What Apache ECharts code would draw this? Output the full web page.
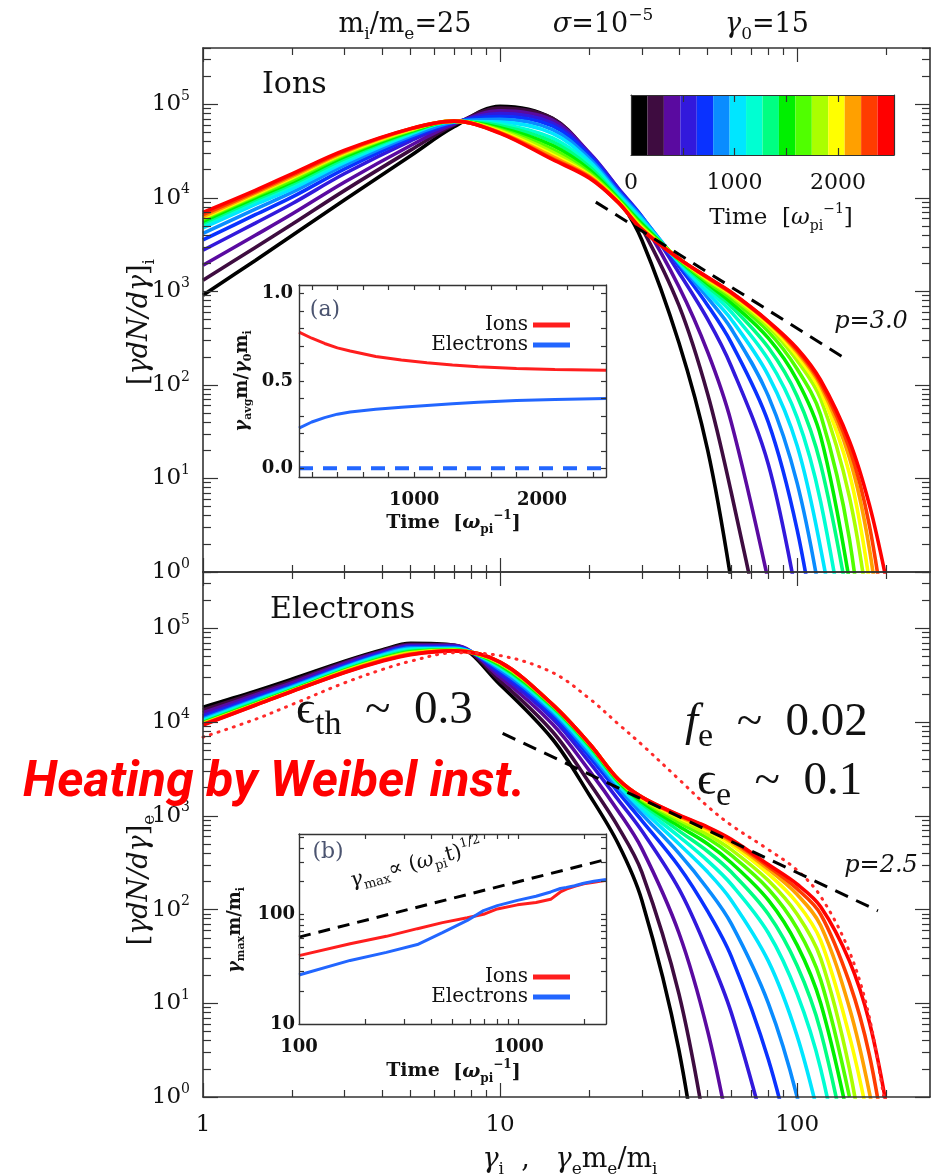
<!DOCTYPE html>
<html>
<head>
<meta charset="utf-8">
<title>Ion and electron spectra</title>
<script src="https://cdn.jsdelivr.net/npm/echarts@6.0.0/dist/echarts.min.js"></script>
<style>
  html, body { margin: 0; padding: 0; background: #fff; }
  #chart { width: 931px; height: 1176px; }
</style>
</head>
<body>
<div id="chart"></div>
<script>
// colour bar / time slices, early (black) -> late (red)
var sliceColors = ['#000000', '#3e0c40', '#5a0aa0', '#3219dc', '#0a32ff', '#0a8cff', '#00e6ff', '#00ffd2',
  '#00ff82', '#00f000', '#50ff00', '#aaff00', '#ffff00', '#ffa000', '#ff3c00', '#ff0000'];
var barFill = [1, 1, 1, 1, 1, 1, 1, 1, 1, 1, 1, 1, 1, 1, 1, 1];
var barTickValues = [500, 1000, 1500, 2000];
var barLabelValues = [0, 1000, 2000];

// ion spectra: gamma grid and log10 [gamma dN/dgamma]_i per time slice
var ionGamma = [1, 1.5, 2, 3, 5, 7, 10, 15, 20, 25, 30, 40, 50, 60, 80, 100, 120, 150, 175, 200];
var ionLogF = [
  [2.96, 3.33, 3.60, 3.98, 4.45, 4.76, 4.98, 4.85, 4.45, 4.00, 3.55, 2.45, 1.30, -0.1],
  [3.12, 3.47, 3.72, 4.08, 4.51, 4.78, 4.96, 4.85, 4.47, 4.07, 3.68, 2.85, 1.90, 0.85, -1.0],
  [3.28, 3.60, 3.83, 4.17, 4.56, 4.79, 4.93, 4.83, 4.48, 4.10, 3.76, 3.05, 2.35, 1.60, -0.1],
  [3.44, 3.73, 3.94, 4.26, 4.61, 4.80, 4.90, 4.80, 4.47, 4.10, 3.80, 3.20, 2.70, 2.20, 1.15, -0.3],
  [3.55, 3.82, 4.01, 4.31, 4.64, 4.81, 4.87, 4.77, 4.45, 4.08, 3.80, 3.27, 2.85, 2.45, 1.60, 0.45, -1.0],
  [3.62, 3.88, 4.06, 4.35, 4.66, 4.81, 4.84, 4.73, 4.42, 4.06, 3.79, 3.30, 2.93, 2.60, 1.88, 0.95, -0.3],
  [3.68, 3.93, 4.10, 4.38, 4.68, 4.815, 4.81, 4.69, 4.39, 4.04, 3.77, 3.31, 2.98, 2.70, 2.10, 1.35, 0.25, -1.5],
  [3.71, 3.96, 4.13, 4.40, 4.69, 4.817, 4.79, 4.64, 4.36, 4.02, 3.75, 3.32, 3.02, 2.78, 2.27, 1.65, 0.75, -1.0],
  [3.73, 3.98, 4.15, 4.42, 4.70, 4.818, 4.77, 4.60, 4.33, 4.00, 3.73, 3.33, 3.05, 2.84, 2.40, 1.88, 1.15, -0.4],
  [3.75, 4.00, 4.17, 4.44, 4.71, 4.819, 4.75, 4.56, 4.30, 3.99, 3.72, 3.34, 3.08, 2.88, 2.50, 2.05, 1.45, -0.1],
  [3.77, 4.02, 4.19, 4.46, 4.72, 4.82, 4.73, 4.52, 4.27, 3.98, 3.70, 3.34, 3.10, 2.92, 2.57, 2.17, 1.68, 0.35, -1.5],
  [3.78, 4.03, 4.21, 4.47, 4.725, 4.82, 4.72, 4.49, 4.25, 3.97, 3.69, 3.35, 3.12, 2.95, 2.62, 2.26, 1.85, 0.80, -0.5],
  [3.79, 4.04, 4.22, 4.48, 4.73, 4.82, 4.71, 4.46, 4.24, 3.96, 3.68, 3.35, 3.13, 2.97, 2.65, 2.31, 1.93, 1.05, -0.1],
  [3.80, 4.05, 4.23, 4.49, 4.735, 4.82, 4.70, 4.44, 4.23, 3.95, 3.67, 3.35, 3.14, 2.98, 2.67, 2.35, 1.99, 1.22, 0.25, -1.2],
  [3.82, 4.065, 4.245, 4.50, 4.74, 4.82, 4.695, 4.42, 4.22, 3.95, 3.665, 3.35, 3.145, 2.985, 2.675, 2.37, 2.02, 1.32, 0.50, -0.7],
  [3.845, 4.08, 4.26, 4.51, 4.74, 4.82, 4.69, 4.41, 4.21, 3.95, 3.66, 3.35, 3.15, 2.99, 2.68, 2.39, 2.05, 1.40, 0.72, -0.1]
];

// electron spectra: gamma_e m_e/m_i grid and log10 [gamma dN/dgamma]_e per time slice
var eleGamma = [1, 1.5, 2, 3, 4, 5, 7, 10, 15, 20, 25, 30, 40, 50, 60, 80, 100, 120, 150, 175, 200];
var eleLogF = [
  [4.16, 4.33, 4.46, 4.65, 4.77, 4.84, 4.82, 4.40, 3.82, 3.22, 2.70, 2.10, 0.50, -1.5],
  [4.13, 4.31, 4.44, 4.64, 4.76, 4.83, 4.82, 4.44, 3.90, 3.35, 2.88, 2.40, 1.10, -0.5],
  [4.10, 4.29, 4.42, 4.63, 4.75, 4.82, 4.82, 4.48, 3.98, 3.48, 3.05, 2.65, 1.75, 0.70, -0.5],
  [4.07, 4.27, 4.40, 4.61, 4.74, 4.81, 4.81, 4.51, 4.04, 3.57, 3.17, 2.84, 2.22, 1.55, 0.90, -0.5],
  [4.05, 4.25, 4.39, 4.60, 4.73, 4.80, 4.80, 4.54, 4.08, 3.63, 3.25, 2.95, 2.46, 1.98, 1.50, 0.40, -0.8],
  [4.035, 4.24, 4.38, 4.59, 4.72, 4.79, 4.79, 4.56, 4.11, 3.67, 3.30, 3.02, 2.60, 2.22, 1.85, 1.00, 0.00, -1.2],
  [4.02, 4.23, 4.37, 4.58, 4.71, 4.78, 4.785, 4.58, 4.13, 3.70, 3.33, 3.07, 2.70, 2.40, 2.10, 1.45, 0.65, -0.3],
  [4.01, 4.22, 4.36, 4.57, 4.70, 4.77, 4.78, 4.59, 4.15, 3.72, 3.35, 3.10, 2.78, 2.52, 2.27, 1.75, 1.10, 0.30, -1.2],
  [4.00, 4.21, 4.35, 4.56, 4.69, 4.76, 4.775, 4.60, 4.16, 3.74, 3.36, 3.13, 2.84, 2.62, 2.40, 1.95, 1.40, 0.70, -0.7],
  [3.995, 4.20, 4.345, 4.555, 4.68, 4.75, 4.77, 4.61, 4.17, 3.75, 3.37, 3.15, 2.89, 2.70, 2.50, 2.10, 1.62, 1.00, -0.3],
  [3.99, 4.195, 4.34, 4.55, 4.675, 4.745, 4.768, 4.62, 4.18, 3.76, 3.38, 3.17, 2.93, 2.76, 2.58, 2.22, 1.80, 1.25, 0.00],
  [3.985, 4.19, 4.337, 4.545, 4.67, 4.74, 4.766, 4.63, 4.185, 3.765, 3.385, 3.18, 2.96, 2.80, 2.64, 2.31, 1.95, 1.48, 0.30, -1.0],
  [3.98, 4.187, 4.334, 4.54, 4.665, 4.735, 4.764, 4.635, 4.19, 3.77, 3.39, 3.19, 2.98, 2.84, 2.69, 2.38, 2.07, 1.67, 0.65, -0.3],
  [3.978, 4.185, 4.332, 4.537, 4.66, 4.73, 4.762, 4.638, 4.19, 3.77, 3.39, 3.20, 2.995, 2.86, 2.72, 2.43, 2.16, 1.83, 0.95, 0.05, -1.0],
  [3.975, 4.182, 4.331, 4.533, 4.655, 4.725, 4.761, 4.64, 4.19, 3.77, 3.39, 3.20, 3.005, 2.875, 2.74, 2.46, 2.22, 1.95, 1.22, 0.45, -0.6],
  [3.97, 4.18, 4.33, 4.53, 4.65, 4.72, 4.76, 4.64, 4.19, 3.77, 3.39, 3.20, 3.01, 2.88, 2.75, 2.48, 2.27, 2.03, 1.45, 0.80, -0.1]
];
// red dotted curve of the electron panel
var eleDottedLogF = [3.84, 4.03, 4.19, 4.42, 4.56, 4.65, 4.74, 4.71, 4.53, 4.25, 3.98, 3.76, 3.39, 3.10, 2.90, 2.64, 2.42, 2.14, 1.55, 0.85, -0.2];

// power-law guides
var ionPowerLaw = [[21, 9.0e3], [142, 2.0e2]];
var elePowerLaw = [[10.2, 7.6e3], [187, 97]];

// inset (a): average energy vs time
var avgTime = [100, 200, 300, 400, 500, 700, 900, 1100, 1300, 1500, 1800, 2100, 2500];
var avgIons = [0.78, 0.745, 0.715, 0.69, 0.672, 0.64, 0.62, 0.605, 0.592, 0.582, 0.572, 0.566, 0.562];
var avgElectrons = [0.23, 0.265, 0.29, 0.31, 0.322, 0.338, 0.35, 0.36, 0.37, 0.378, 0.388, 0.394, 0.40];
var avgDashTime = [100, 2500];
var avgDashValue = [0, 0];

// inset (b): maximum energy vs time
var maxTime = [100, 171, 250, 346, 450, 584, 692, 800, 988, 1200, 1400, 1550, 1650, 1800, 1980, 2200, 2500];
var maxIons = [42, 54, 63, 74, 84, 93, 100, 112, 122, 128, 137, 160, 170, 180, 190, 196, 204];
var maxElectrons = [28, 38, 45, 53, 68, 88, 108, 120, 134, 146, 160, 172, 176, 182, 192, 200, 208];
var maxFit = [[100, 62], [2500, 316]];

// axis ticks
var gMax = 280;
var majorG = [1, 10, 100];
var majorF = [1, 10, 100, 1e3, 1e4, 1e5];
var fMax = 4e5;

var serif = "'DejaVu Serif', serif";
var mathFont = "'Liberation Serif', 'DejaVu Serif', serif";
var frame = '#333';
var ink = '#111';

function logMinor(lo, hi) {
  var out = [];
  for (var d = lo; d < hi; d *= 10) {
    for (var m = 2; m <= 9; m++) if (m * d <= hi * 1.0001) out.push(m * d);
  }
  return out;
}

function pow10(xs, logs) {
  return logs.map(function (v, i) { return [xs[i], Math.pow(10, v)]; });
}
function zip(xs, ys) {
  return ys.map(function (v, i) { return [xs[i], v]; });
}

function ax(type, grid, pos, min, max, ticks, len, o) {
  o = o || {};
  var a = {
    type: type, gridIndex: grid, position: pos, min: min, max: max, z: 10,
    axisLine: { show: o.line !== false, onZero: false, lineStyle: { color: frame, width: o.lw || 1.6 } },
    axisTick: { show: true, inside: true, length: len, customValues: ticks, lineStyle: { color: frame, width: 1.2 } },
    axisLabel: { show: false },
    splitLine: { show: false }
  };
  if (type === 'log') a.logBase = 10;
  if (o.labels) {
    a.axisLabel = {
      show: true, customValues: o.labels, formatter: o.fmt, margin: o.margin, color: ink,
      fontFamily: serif, fontSize: o.size, fontWeight: o.bold ? 'bold' : 'normal',
      lineHeight: o.lh || Math.round(o.size * 1.25), rich: o.rich
    };
  }
  return a;
}

var powerFmt = function (v) { return '10{s|' + Math.round(Math.log10(v)) + '}'; };
var powerRich = { s: { fontSize: 14, lineHeight: 14, verticalAlign: 'top', fontFamily: serif } };
var plainFmt = function (v) { return String(v); };

var minorG = logMinor(1, gMax);
var minorF = logMinor(1, fMax);

var xAxes = [
  ax('log', 0, 'bottom', 1, gMax, majorG, 14),
  ax('log', 0, 'bottom', 1, gMax, minorG, 7, { line: false }),
  ax('log', 0, 'top', 1, gMax, majorG, 14),
  ax('log', 0, 'top', 1, gMax, minorG, 7, { line: false }),
  ax('log', 1, 'bottom', 1, gMax, majorG, 14, { labels: majorG, fmt: plainFmt, size: 23, margin: 14, lh: 28 }),
  ax('log', 1, 'bottom', 1, gMax, minorG, 7, { line: false }),
  ax('log', 1, 'top', 1, gMax, majorG, 14),
  ax('log', 1, 'top', 1, gMax, minorG, 7, { line: false }),
  // inset (a)
  ax('value', 2, 'bottom', 100, 2500, [200, 400, 600, 800, 1000, 1200, 1400, 1600, 1800, 2000, 2200, 2400], 5,
    { labels: [1000, 2000], fmt: plainFmt, size: 18, bold: true, margin: 12, lw: 1.4 }),
  ax('value', 2, 'top', 100, 2500, [200, 400, 600, 800, 1000, 1200, 1400, 1600, 1800, 2000, 2200, 2400], 5, { lw: 1.4 }),
  // inset (b)
  ax('log', 3, 'bottom', 100, 2500, [200, 300, 400, 500, 600, 700, 800, 900, 1000, 2000], 5,
    { labels: [100, 1000], fmt: plainFmt, size: 18, bold: true, margin: 12, lw: 1.4 }),
  ax('log', 3, 'top', 100, 2500, [200, 300, 400, 500, 600, 700, 800, 900, 1000, 2000], 5, { lw: 1.4 }),
  // colour bar
  { type: 'category', gridIndex: 4, show: false, data: sliceColors.map(function (c, i) { return 'slice ' + (i + 1); }) },
  ax('value', 4, 'bottom', 0, 2540, barTickValues, 7, { labels: barLabelValues, fmt: plainFmt, size: 22, margin: 14, lw: 1.2 }),
  ax('value', 4, 'top', 0, 2540, barTickValues, 7, { lw: 1.2 })
];

var yAxes = [
  ax('log', 0, 'left', 1, fMax, majorF, 15, { labels: majorF, fmt: powerFmt, rich: powerRich, size: 23, margin: 13, lh: 30 }),
  ax('log', 0, 'left', 1, fMax, minorF, 8, { line: false }),
  ax('log', 0, 'right', 1, fMax, majorF, 15),
  ax('log', 0, 'right', 1, fMax, minorF, 8, { line: false }),
  ax('log', 1, 'left', 1, fMax, majorF, 15, { labels: majorF, fmt: powerFmt, rich: powerRich, size: 23, margin: 13, lh: 30 }),
  ax('log', 1, 'left', 1, fMax, minorF, 8, { line: false }),
  ax('log', 1, 'right', 1, fMax, majorF, 15),
  ax('log', 1, 'right', 1, fMax, minorF, 8, { line: false }),
  // inset (a)
  ax('value', 2, 'left', -0.05, 1.05, [0, 0.1, 0.2, 0.3, 0.4, 0.5, 0.6, 0.7, 0.8, 0.9, 1.0], 5,
    { labels: [0, 0.5, 1.0], fmt: function (v) { return v.toFixed(1); }, size: 18, bold: true, margin: 6, lw: 1.4 }),
  ax('value', 2, 'right', -0.05, 1.05, [0, 0.1, 0.2, 0.3, 0.4, 0.5, 0.6, 0.7, 0.8, 0.9, 1.0], 5, { lw: 1.4 }),
  // inset (b)
  ax('log', 3, 'left', 10, 540, [20, 30, 40, 50, 60, 70, 80, 90, 100, 200, 300, 400, 500], 5,
    { labels: [10, 100], fmt: plainFmt, size: 18, bold: true, margin: 4, lw: 1.4 }),
  ax('log', 3, 'right', 10, 540, [20, 30, 40, 50, 60, 70, 80, 90, 100, 200, 300, 400, 500], 5, { lw: 1.4 }),
  // colour bar
  ax('value', 4, 'left', 0, 1, [], 0, { lw: 1.2 }),
  ax('value', 4, 'right', 0, 1, [], 0, { lw: 1.2 })
];

var series = [];
function spectrum(idx, xs, row, color) {
  return {
    type: 'line', xAxisIndex: idx, yAxisIndex: idx, data: pow10(xs, row),
    smooth: 0.35, symbol: 'none', silent: true, z: 3,
    lineStyle: { color: color, width: 3.6 }, itemStyle: { color: color }
  };
}
ionLogF.forEach(function (row, k) { series.push(spectrum(0, ionGamma, row, sliceColors[k])); });
eleLogF.forEach(function (row, k) { series.push(spectrum(4, eleGamma, row, sliceColors[k])); });

series.push({
  name: 'fit', type: 'line', xAxisIndex: 4, yAxisIndex: 4, data: pow10(eleGamma, eleDottedLogF),
  smooth: 0.35, symbol: 'none', silent: true, z: 4,
  lineStyle: { color: '#ff2a2a', width: 3, type: [1, 7], cap: 'round' }
});
series.push({
  name: 'p=3.0', type: 'line', xAxisIndex: 0, yAxisIndex: 0, data: ionPowerLaw, symbol: 'none', silent: true, z: 4,
  lineStyle: { color: '#000', width: 3, type: [14, 9] }
});
series.push({
  name: 'p=2.5', type: 'line', xAxisIndex: 4, yAxisIndex: 4, data: elePowerLaw, symbol: 'none', silent: true, z: 4,
  lineStyle: { color: '#000', width: 3, type: [14, 9] }
});

var ionRed = '#ff1e1e';
var eleBlue = '#2266ff';
function insetLine(name, idx, data, color, width, dash) {
  return {
    name: name, type: 'line', xAxisIndex: idx, yAxisIndex: idx, data: data, symbol: 'none', silent: true, z: 5,
    color: color, itemStyle: { color: color },
    lineStyle: { color: color, width: width, type: dash || 'solid' }
  };
}
series.push(insetLine('Ions', 8, zip(avgTime, avgIons), ionRed, 3));
series.push(insetLine('Electrons', 8, zip(avgTime, avgElectrons), eleBlue, 3));
series.push(insetLine('Electrons (dashed)', 8, zip(avgDashTime, avgDashValue), eleBlue, 4, [14, 10]));
series.push(insetLine('Ions', 10, zip(maxTime, maxIons), ionRed, 3));
series.push(insetLine('Electrons', 10, zip(maxTime, maxElectrons), eleBlue, 3));
series.push(insetLine('max fit', 10, maxFit, '#000', 3, [12, 8]));

series.push({
  type: 'bar', xAxisIndex: 12, yAxisIndex: 12, silent: true, barCategoryGap: 0, z: 2,
  data: barFill.map(function (v, i) { return { value: v, itemStyle: { color: sliceColors[i] } }; })
});

function richSet(size, weight, family, subRatio) {
  var small = Math.round(size * (subRatio || 0.62));
  family = family || serif;
  return {
    sup: { fontSize: small, lineHeight: small, verticalAlign: 'top', fontFamily: family, fontWeight: weight },
    sub: { fontSize: small, lineHeight: small, verticalAlign: 'bottom', fontFamily: family, fontWeight: weight },
    it: { fontSize: size, fontStyle: 'italic', fontFamily: family, fontWeight: weight }
  };
}
function txt(x, y, s, size, o) {
  o = o || {};
  var weight = o.bold ? 'bold' : 'normal';
  return {
    type: 'text', x: x, y: y, z: 100, rotation: o.rot || 0, scaleX: o.sx || 1,
    style: {
      text: s, fill: o.color || ink, fontFamily: o.family || serif, fontSize: size,
      fontWeight: weight, fontStyle: o.italic ? 'italic' : 'normal',
      align: o.align || 'center', verticalAlign: 'middle', lineHeight: Math.round(size * 1.35),
      rich: richSet(size, weight, o.family, o.subRatio)
    }
  };
}

function measure(str, font) {
  var ctx = document.createElement('canvas').getContext('2d');
  ctx.font = font;
  return ctx.measureText(str).width;
}
var heatFont = 'italic bold 50px Roboto';
var heatScale = 502 / measure('Heating by Weibel inst.', heatFont);

var graphics = [
  txt(405, 25, 'm{sub|i}/m{sub|e}=25', 27),
  txt(603, 25, '{it|σ}=10{sup|−5}', 27),
  txt(767, 25, '{it|γ}{sub|0}=15', 27),
  txt(262, 85, 'Ions', 30, { align: 'left' }),
  txt(270, 610, 'Electrons', 30, { align: 'left' }),
  txt(781, 218, 'Time  [{it|ω}{sub|pi}{sup|−1}]', 23),
  txt(871, 322, 'p=3.0', 24, { italic: true }),
  txt(881, 866, 'p=2.5', 24, { italic: true }),
  txt(140, 322, '[{it|γdN/dγ}]{sub|i}', 27, { rot: Math.PI / 2 }),
  txt(140, 880, '[{it|γdN/dγ}]{sub|e}', 27, { rot: Math.PI / 2 }),
  txt(570, 1160, '{it|γ}{sub|i}  ,   {it|γ}{sub|e}m{sub|e}/m{sub|i}', 27),
  // inset (a)
  txt(325, 310, '(a)', 22, { color: '#4b5470' }),
  txt(242, 381, '{it|γ}{sub|avg}m/{it|γ}{sub|0}m{sub|i}', 18, { bold: true, rot: Math.PI / 2 }),
  txt(413, 523, 'Time', 19, { bold: true }),
  txt(487, 523, '[{it|ω}{sub|pi}{sup|−1}]', 19, { bold: true }),
  // inset (b)
  txt(328, 852, '(b)', 22, { color: '#4b5470' }),
  txt(416, 864, '{it|γ}{sub|max}∝ ({it|ω}{sub|pi}t){sup|1/2}', 21, { rot: 15 * Math.PI / 180 }),
  txt(235, 930, '{it|γ}{sub|max}m/m{sub|i}', 18, { bold: true, rot: Math.PI / 2 }),
  txt(413, 1071, 'Time', 19, { bold: true }),
  txt(487, 1072, '[{it|ω}{sub|pi}{sup|−1}]', 19, { bold: true }),
  // annotations
  txt(296, 711, 'ϵ{sub|th}  ~  0.3', 47, { align: 'left', family: mathFont, subRatio: 0.72 }),
  txt(685, 723, '{it|f}{sub|e}  ~  0.02', 47, { align: 'left', family: mathFont, subRatio: 0.72 }),
  txt(697, 782, 'ϵ{sub|e}  ~  0.1', 47, { align: 'left', family: mathFont, subRatio: 0.72 }),
  {
    type: 'text', x: 23, y: 783, z: 120, scaleX: heatScale,
    style: {
      text: 'Heating by Weibel inst.', fill: '#ff0000', fontFamily: 'Roboto', fontSize: 50,
      fontWeight: 'bold', fontStyle: 'italic', align: 'left', verticalAlign: 'middle'
    }
  }
];

function legendAt(top) {
  return {
    data: ['Ions', 'Electrons'], orient: 'vertical', align: 'right', right: 356, top: top,
    itemWidth: 37, itemHeight: 5, itemGap: 0, icon: 'rect', selectedMode: false,
    textStyle: { fontFamily: serif, fontSize: 20, color: ink, lineHeight: 19 }
  };
}

var chart = echarts.init(document.getElementById('chart'));
chart.setOption({
  animation: false,
  backgroundColor: '#fff',
  textStyle: { fontFamily: serif },
  grid: [
    { left: 203, top: 48, width: 727, height: 524, outerBoundsMode: 'none' },
    { left: 203, top: 572, width: 727, height: 525, outerBoundsMode: 'none' },
    { left: 299, top: 285, width: 307, height: 192, outerBoundsMode: 'none' },
    { left: 299, top: 834, width: 307, height: 190, outerBoundsMode: 'none' },
    { left: 631, top: 95, width: 263, height: 60, outerBoundsMode: 'none' }
  ],
  legend: [legendAt(310), legendAt(962)],
  xAxis: xAxes,
  yAxis: yAxes,
  series: series,
  graphic: graphics
});
</script>
</body>
</html>
